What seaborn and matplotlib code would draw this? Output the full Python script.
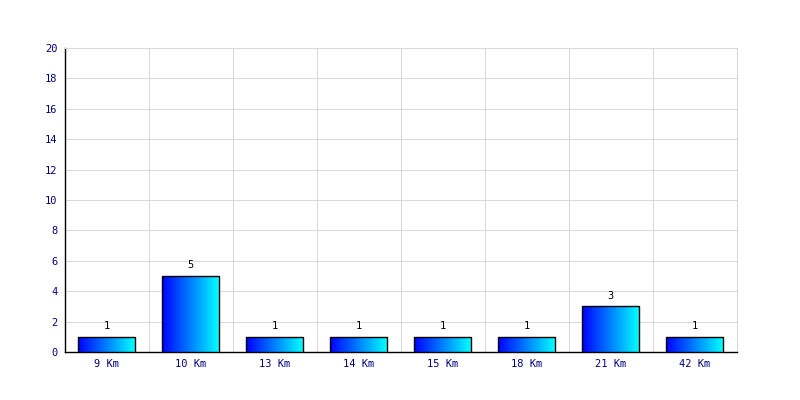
import matplotlib
matplotlib.use("Agg")
import matplotlib.pyplot as plt
import seaborn as sns
import numpy as np
import pandas as pd

categories = ["9 Km", "10 Km", "13 Km", "14 Km", "15 Km", "18 Km", "21 Km", "42 Km"]
values = [1, 5, 1, 1, 1, 1, 3, 1]
y_ticks = [0, 2, 4, 6, 8, 10, 12, 14, 16, 18, 20]

sns.set_style("white")
plt.rcParams['font.family'] = ['DejaVu Sans Mono']

df = pd.DataFrame({"cat": categories, "val": values})

fig = plt.figure(figsize=(8, 4), dpi=100)
ax = fig.add_axes([64.5/800, 48/400, 672/800, 304/400])

sns.barplot(data=df, x="cat", y="val", ax=ax, width=0.667, color="blue",
            edgecolor="black", linewidth=1.0, zorder=3)

grad = np.linspace(0, 1, 256).reshape(1, -1)
cmap = matplotlib.colors.LinearSegmentedColormap.from_list("bc", ["#0000ff", "#00ffff"])
for p, v in zip(ax.patches, values):
    x0, y0 = p.get_x(), p.get_y()
    w, h = p.get_width(), p.get_height()
    im = ax.imshow(grad, extent=[x0, x0 + w, y0, y0 + h], aspect="auto", cmap=cmap,
                   zorder=3.5, origin="lower")
    im.set_clip_path(p)
    p.set_facecolor("none")
    p.set_zorder(4)
    ax.annotate(str(v), (x0 + w / 2, y0 + h), xytext=(0, 4), textcoords="offset points",
                ha="center", va="bottom", fontsize=7.5, color="black")

ax.set_xlim(-0.5, len(categories) - 0.5)
ax.set_ylim(0, 20)
ax.set_yticks(y_ticks)
ax.set_xticks(range(len(categories)))
ax.set_xticklabels(categories)
ax.set_xticks(np.arange(-0.5, len(categories), 1.0), minor=True)
ax.grid(False)
ax.grid(True, which="minor", axis="x", color="#d9d9d9", linewidth=0.75, zorder=0)
ax.grid(True, which="major", axis="y", color="#d9d9d9", linewidth=0.75, zorder=0)
ax.set_axisbelow(True)
ax.tick_params(axis="both", which="both", length=0, labelsize=7.5, labelcolor="#000080")
ax.tick_params(axis="y", pad=5)
ax.tick_params(axis="x", pad=5)
ax.set_xlabel("")
ax.set_ylabel("")
for s in ["top", "right"]:
    ax.spines[s].set_color("#d9d9d9")
    ax.spines[s].set_linewidth(0.75)
for s in ["left", "bottom"]:
    ax.spines[s].set_color("black")
    ax.spines[s].set_linewidth(1.0)

fig.savefig("out.png", dpi=100)
